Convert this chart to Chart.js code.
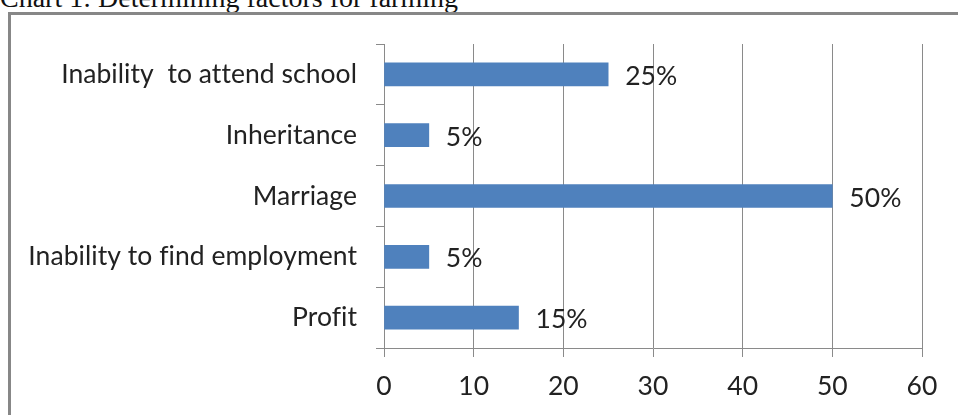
<!DOCTYPE html>
<html>
<head>
<meta charset="utf-8">
<script src="https://cdn.jsdelivr.net/npm/chart.js@4.4.1/dist/chart.umd.min.js"></script>
<style>
    html, body { margin: 0; padding: 0; background: #fff; overflow: hidden; }
    #wrap { position: relative; width: 958px; height: 415px; }
    #title {
        position: absolute; left: 0; top: -16px;
        font: 28px "Liberation Serif", "Times New Roman", serif;
        line-height: 28px; color: #111; white-space: nowrap;
    }
    #frame {
        position: absolute; left: 8px; top: 12px; width: 980px; height: 440px;
        border-left: 3px solid #878787; border-top: 3px solid #878787;
    }
    #chart { position: absolute; left: 0; top: 0; }
</style>
</head>
<body>
<div id="wrap">
    <div id="title">Chart 1: Determining factors for farming</div>
    <div id="frame"></div>
    <canvas id="chart" width="958" height="415"></canvas>
</div>
<script>
// Categories top to bottom, values in percent
const categories = [
    'Inability  to attend school',
    'Inheritance',
    'Marriage',
    'Inability to find employment',
    'Profit'
];
const values = [25, 5, 50, 5, 15];
const xTicks = [0, 10, 20, 30, 40, 50, 60];

const LABEL_FONT = { family: 'Lato, "Open Sans", sans-serif', size: 26.5 };
const GRID = '#8a8a8a';

// no "fi" ligature in the labels
const noLigatures = {
    id: 'noLigatures',
    beforeDraw(chart) { chart.ctx.letterSpacing = '0.05px'; }
};

// writes "NN%" just past the end of each bar
const valueLabels = {
    id: 'valueLabels',
    afterDatasetsDraw(chart) {
        const ctx = chart.ctx;
        const meta = chart.getDatasetMeta(0);
        ctx.save();
        ctx.font = `${LABEL_FONT.size}px ${LABEL_FONT.family}`;
        ctx.fillStyle = '#222';
        ctx.textAlign = 'left';
        ctx.textBaseline = 'middle';
        meta.data.forEach((bar, i) => {
            ctx.fillText(values[i] + '%', bar.x + 17, bar.y + 2);
        });
        ctx.restore();
    }
};

new Chart(document.getElementById('chart'), {
    type: 'bar',
    data: {
        labels: categories,
        datasets: [{
            data: values,
            backgroundColor: '#4f81bd',
            borderWidth: 0,
            barThickness: 23
        }]
    },
    options: {
        indexAxis: 'y',
        responsive: false,
        animation: false,
        layout: { padding: { top: 44, right: 36, bottom: 0, left: 0 } },
        plugins: { legend: { display: false }, tooltip: { enabled: false } },
        scales: {
            x: {
                min: 0,
                max: 60,
                afterBuildTicks: scale => { scale.ticks = xTicks.map(v => ({ value: v })); },
                afterFit: scale => { scale.height = 67; },
                grid: { color: GRID, lineWidth: 1, tickLength: 9, tickColor: GRID },
                border: { color: GRID, width: 1 },
                ticks: { color: '#222', font: LABEL_FONT, padding: 14, maxRotation: 0 }
            },
            y: {
                afterFit: scale => { scale.width = 384; },
                grid: { drawOnChartArea: false, tickLength: 8, color: GRID, offset: true },
                border: { color: GRID, width: 1 },
                ticks: { color: '#222', font: LABEL_FONT, padding: 19 }
            }
        }
    },
    plugins: [noLigatures, valueLabels]
});
</script>
</body>
</html>
